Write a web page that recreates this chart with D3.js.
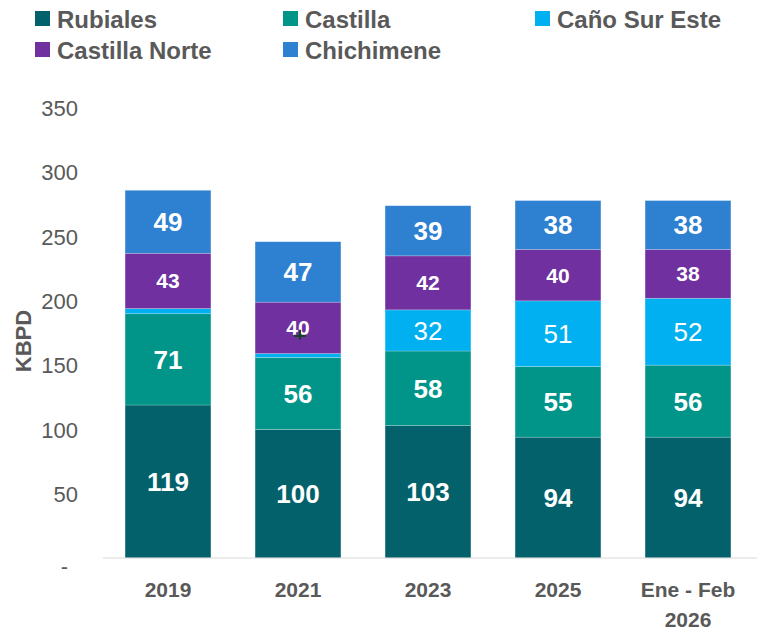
<!DOCTYPE html>
<html>
<head>
<meta charset="utf-8">
<script src="https://cdn.jsdelivr.net/npm/d3@7"></script>
<style>
  body { margin: 0; background: #fff; }
  svg { font-family: 'Liberation Sans', Arial, sans-serif; }
</style>
</head>
<body>
<svg id="chart" width="760" height="633"></svg>
<script>
// chart data
const categories = ['2019', '2021', '2023', '2025', 'Ene - Feb 2026'];
const seriesNames = ['Rubiales', 'Castilla', 'Caño Sur Este', 'Castilla Norte', 'Chichimene'];
const rubiales = [119, 100, 103, 94, 94];
const castilla = [71, 56, 58, 55, 56];
const canoSurEste = [4, 3, 32, 51, 52];
const castillaNorte = [43, 40, 42, 40, 38];
const chichimene = [49, 47, 39, 38, 38];
const yTicks = [0, 50, 100, 150, 200, 250, 300, 350];

const colors = ['#02616A', '#01958A', '#00B0F0', '#7030A0', '#2E80D0'];
const seriesValues = [rubiales, castilla, canoSurEste, castillaNorte, chichimene];

let svg = d3.select('#chart');

let rows = categories.map((c, i) => {
    let r = { cat: c };
    seriesNames.forEach((s, k) => { r[s] = seriesValues[k][i]; });
    return r;
});
let stacked = d3.stack().keys(seriesNames)(rows);

const x = d3.scaleBand()
    .domain(categories)
    .range([103, 753])
    .paddingInner(0.34)
    .paddingOuter(0.17);

const y = d3.scaleLinear()
    .domain([0, 350])
    .range([558, 108]);

/**
 * y axis tick labels
 */
let yAxis = svg.append('g')
    .attr('transform', 'translate(78,0)')
    .call(d3.axisLeft(y).tickValues(yTicks).tickSize(0).tickPadding(0)
        .tickFormat(d => d === 0 ? '-' : d));
yAxis.select('.domain').remove();
yAxis.selectAll('text')
    .attr('fill', '#595959')
    .style('font-size', '22px')
    .style('font-family', "'Liberation Sans', Arial, sans-serif")
    .attr('dy', '0.35em');
yAxis.selectAll('.tick').filter(d => d === 0).select('text')
    .attr('x', -10).attr('dy', '0.7em');

svg.append('text')
    .attr('transform', 'translate(31,341) rotate(-90)')
    .attr('text-anchor', 'middle')
    .attr('fill', '#595959')
    .style('font-size', '22px')
    .style('font-weight', 'bold')
    .text('KBPD');

/**
 * Bars
 */
let layers = svg.append('g').selectAll('g')
    .data(stacked)
    .join('g')
    .attr('fill', (d, i) => colors[i]);

layers.selectAll('rect')
    .data(d => d)
    .join('rect')
    .attr('x', d => x(d.data.cat))
    .attr('y', d => y(d[1]))
    .attr('width', x.bandwidth())
    .attr('height', d => y(d[0]) - y(d[1]))
    .attr('stroke', 'rgba(255,255,255,0.3)')
    .attr('stroke-width', 0.7);

// baseline
svg.append('line')
    .attr('x1', 103).attr('x2', 757)
    .attr('y1', y(0)).attr('y2', y(0))
    .attr('stroke', '#d9d9d9')
    .attr('stroke-width', 1.2);

/**
 * Value labels
 */
const labelStyle = [
    { size: 26, weight: 'bold' },
    { size: 26, weight: 'bold' },
    { size: 26, weight: 'normal' },
    { size: 21, weight: 'bold' },
    { size: 26, weight: 'bold' }
];
stacked.forEach((layer, k) => {
    svg.append('g').selectAll('text')
        .data(layer.filter(d => d[1] - d[0] >= 10))
        .join('text')
        .attr('x', d => x(d.data.cat) + x.bandwidth() / 2)
        .attr('y', d => y((d[0] + d[1]) / 2))
        .attr('dy', '0.36em')
        .attr('text-anchor', 'middle')
        .attr('fill', '#fff')
        .style('font-size', labelStyle[k].size + 'px')
        .style('font-weight', labelStyle[k].weight)
        .text(d => d[1] - d[0]);
});

// small stray plus mark under the 2021 Castilla Norte label
let cn2021 = stacked[3][1];
let px = x(cn2021.data.cat) + x.bandwidth() / 2 + 2;
let py = y((cn2021[0] + cn2021[1]) / 2) + 8;
svg.append('path')
    .attr('d', `M${px - 6},${py} H${px + 6} M${px},${py - 6} V${py + 4}`)
    .attr('stroke', '#17402a')
    .attr('stroke-width', 2.2)
    .attr('fill', 'none');

/**
 * Category labels
 */
let xLab = svg.append('g').selectAll('text')
    .data(categories)
    .join('text')
    .attr('x', d => x(d) + x.bandwidth() / 2)
    .attr('y', 597)
    .attr('text-anchor', 'middle')
    .attr('fill', '#595959')
    .style('font-size', '21px')
    .style('font-weight', 'bold');
xLab.each(function(d) {
    let parts = d === 'Ene - Feb 2026' ? ['Ene - Feb', '2026'] : [d];
    let t = d3.select(this);
    parts.forEach((p, i) => {
        t.append('tspan')
            .attr('x', x(d) + x.bandwidth() / 2)
            .attr('dy', i === 0 ? 0 : 30)
            .text(p);
    });
});

/**
 * Legend
 */
const legendPos = [[35, 19], [283, 19], [535, 19], [35, 50], [283, 50]];
let legend = svg.append('g').selectAll('g')
    .data(seriesNames)
    .join('g')
    .attr('transform', (d, i) => `translate(${legendPos[i][0]},${legendPos[i][1]})`);
legend.append('rect')
    .attr('x', 0).attr('y', -8)
    .attr('width', 15).attr('height', 15)
    .attr('fill', (d, i) => colors[i]);
legend.append('text')
    .attr('x', 22)
    .attr('y', 0)
    .attr('dy', '0.36em')
    .attr('fill', '#595959')
    .style('font-size', '24px')
    .style('font-weight', 'bold')
    .text(d => d);
</script>
</body>
</html>
